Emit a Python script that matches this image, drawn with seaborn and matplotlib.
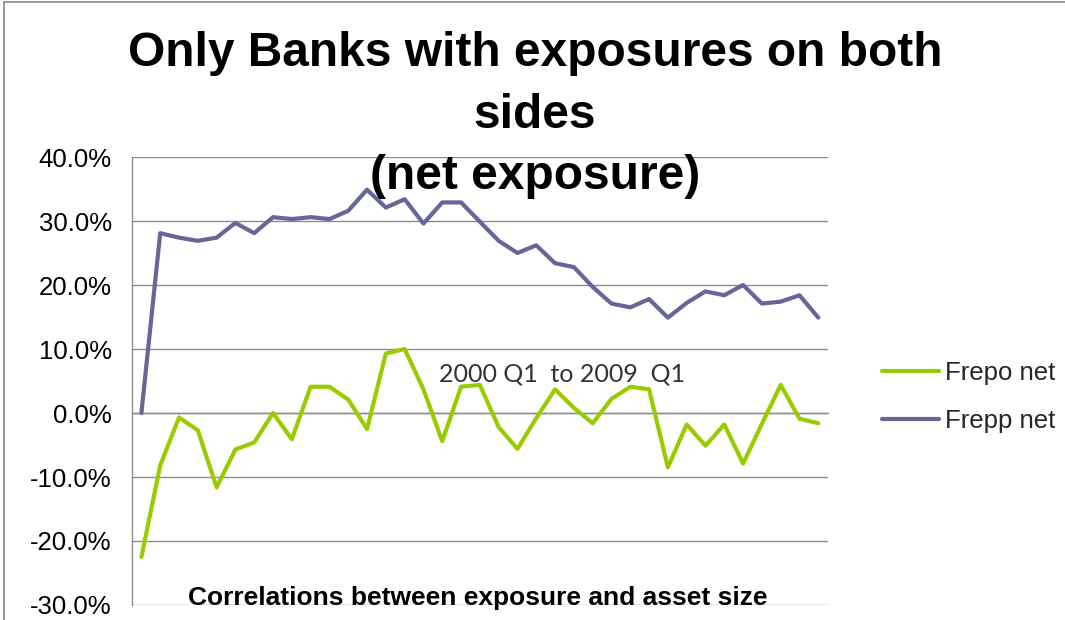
import matplotlib
matplotlib.use("Agg")
import matplotlib.pyplot as plt
from matplotlib.lines import Line2D
import seaborn as sns
import pandas as pd
import numpy as np

# Quarterly correlations, 2000 Q1 .. 2009 Q1 (37 quarters)
quarters = [f"{y} Q{q}" for y in range(2000, 2010) for q in range(1, 5)][:37]

frepo_net = [-22.5, -8.2, -0.7, -2.7, -11.6, -5.7, -4.6, 0.0, -4.1, 4.1,
             4.1, 2.1, -2.5, 9.3, 10.0, 3.7, -4.4, 4.1, 4.4, -2.2,
             -5.6, -0.8, 3.7, 0.8, -1.6, 2.2, 4.1, 3.7, -8.5, -1.8,
             -5.1, -1.8, -7.9, -1.7, 4.4, -0.9, -1.6]

frepp_net = [0.0, 28.1, 27.4, 26.9, 27.4, 29.7, 28.1, 30.6, 30.3, 30.6,
             30.3, 31.6, 34.9, 32.1, 33.4, 29.6, 32.9, 32.9, 29.9, 26.9,
             25.0, 26.2, 23.4, 22.8, 19.7, 17.1, 16.5, 17.8, 14.9, 17.2,
             19.0, 18.4, 20.0, 17.1, 17.4, 18.4, 14.9]

series_names = ["Frepo net", "Frepp net"]
series_colors = ["#99CC00", "#666699"]

title_lines = ["Only Banks with exposures on both", "sides", "(net exposure)"]
period_note = "2000 Q1  to 2009  Q1"
bottom_note = "Correlations between exposure and asset size"
y_ticks = [40, 30, 20, 10, 0, -10, -20, -30]

df = pd.DataFrame({
    "idx": np.tile(np.arange(len(quarters)), 2),
    "quarter": quarters * 2,
    "value": frepo_net + frepp_net,
    "series": np.repeat(series_names, len(quarters)),
})

sns.set_theme(style="white")
plt.rcParams["font.family"] = ["Liberation Sans", "DejaVu Sans"]

W, H = 1065, 620
fig = plt.figure(figsize=(W / 100, H / 100), dpi=100)
fig.patch.set_facecolor("white")
ax = fig.add_axes([132 / W, 1 - 605 / H, (827.7 - 132) / W, (605 - 157) / H])
ax.set_facecolor("white")

grid_c = "#8C8C8C"
for v in y_ticks:
    ax.axhline(v, color=grid_c, lw=1.0, zorder=0)

sns.lineplot(data=df, x="idx", y="value", hue="series", hue_order=series_names,
             palette=series_colors, linewidth=3.0, ax=ax, legend=False,
             sort=False, zorder=3)

ax.set_xlim(-0.5, len(quarters) - 0.5)
ax.set_ylim(-30, 40)
ax.set_xlabel("")
ax.set_ylabel("")

# y axis
ax.set_yticks(y_ticks)
ax.set_yticklabels([f"{v:.1f}%" for v in y_ticks], fontsize=18.5, color="black")
ax.tick_params(axis="y", direction="out", length=6.5, width=1, color=grid_c, pad=8)

# category axis sits on the zero line, ticks between categories
ax.spines["bottom"].set_position(("data", 0))
ax.spines["bottom"].set_color(grid_c)
ax.spines["bottom"].set_linewidth(1.0)
ax.set_xticks(np.arange(len(quarters)) + 0.5)
ax.set_xticklabels([])
ax.tick_params(axis="x", direction="out", length=5.5, width=1, color=grid_c)
ax.spines["left"].set_color(grid_c)
ax.spines["left"].set_linewidth(1.0)
ax.spines["top"].set_visible(False)
ax.spines["right"].set_visible(False)

# title
baselines = [66, 127.5, 189]
for line, b in zip(title_lines, baselines):
    fig.text(535 / W, 1 - b / H, line, ha="center", va="baseline",
             fontsize=34.5, fontweight="bold", color="black")

fig.text(562 / W, 1 - 381.7 / H, period_note, ha="center", va="baseline",
         fontsize=18, color="#333333", family=["Lato", "DejaVu Sans"])

fig.text(478 / W, 1 - 605 / H, bottom_note, ha="center", va="baseline",
         fontsize=19, fontweight="bold", color="black")

# legend
handles = [Line2D([0], [0], color=c, lw=3.0) for c in series_colors]
fig.legend(handles, series_names, loc="center left",
           bbox_to_anchor=(882 / W, 1 - 397 / H), frameon=False,
           fontsize=18.5, handlelength=2.2, handletextpad=0.25,
           borderpad=0, borderaxespad=0, labelspacing=0.95)

# outer border on the left and top edges
fig.add_artist(Line2D([3.5 / W, 3.5 / W], [0, 1 - 1.5 / H], color="#8A8A8A",
                      lw=1.2, transform=fig.transFigure))
fig.add_artist(Line2D([3.5 / W, 1], [1 - 1.5 / H, 1 - 1.5 / H], color="#8A8A8A",
                      lw=1.2, transform=fig.transFigure))

fig.savefig("out.png", dpi=100, facecolor="white")
